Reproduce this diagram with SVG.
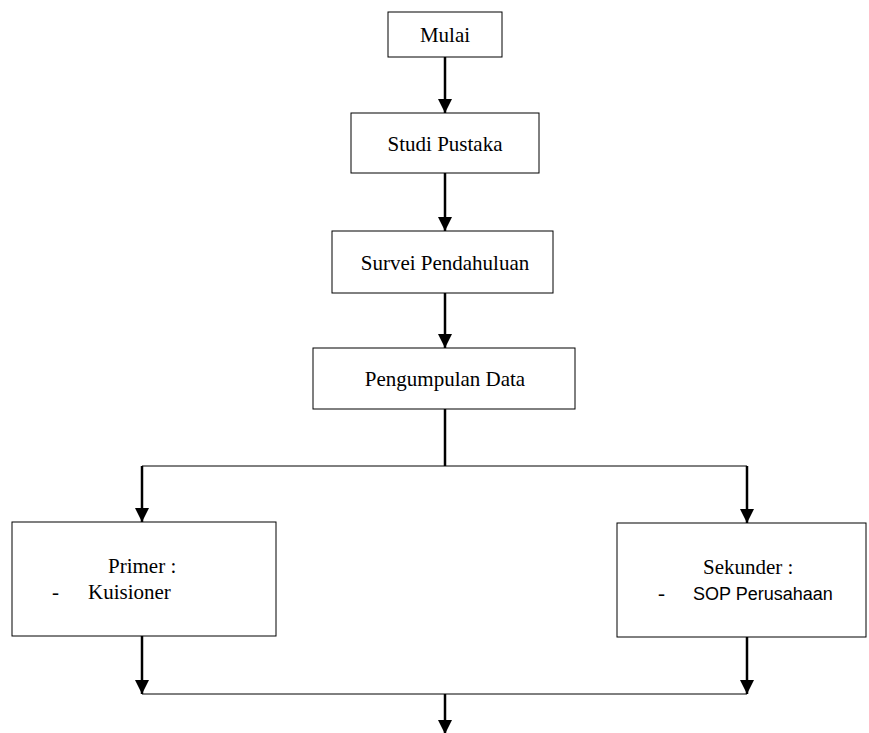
<svg xmlns="http://www.w3.org/2000/svg" width="869" height="733" viewBox="0 0 869 733">
<style>
.box{fill:#fff;stroke:#000;stroke-width:1}
.t{font-family:"Liberation Serif","Times New Roman",serif;font-size:21px;fill:#000}
.s{font-family:"Liberation Sans",Arial,sans-serif;font-size:18px;fill:#000}
.c{text-anchor:middle}
.arr{stroke:#000;stroke-width:2.5;fill:none}
.ln{stroke:#000;stroke-width:1;fill:none}
</style>
<defs>
<marker id="ah" viewBox="0 0 14 14" refX="14" refY="7" markerWidth="14" markerHeight="14" markerUnits="userSpaceOnUse" orient="auto">
<path d="M0,0 L14,7 L0,14 Z" fill="#000"/>
</marker>
</defs>
<rect width="869" height="733" fill="#fff"/>
<g id="connectors">
<line class="arr" x1="445" y1="57" x2="445" y2="113" marker-end="url(#ah)"/>
<line class="arr" x1="445" y1="173" x2="445" y2="231" marker-end="url(#ah)"/>
<line class="arr" x1="445" y1="293" x2="445" y2="348" marker-end="url(#ah)"/>
<line class="arr" x1="445" y1="409" x2="445" y2="466"/>
<line class="ln" x1="142" y1="466" x2="747" y2="466"/>
<line class="arr" x1="142" y1="466" x2="142" y2="522" marker-end="url(#ah)"/>
<line class="arr" x1="747" y1="466" x2="747" y2="523" marker-end="url(#ah)"/>
<line class="arr" x1="142" y1="636" x2="142" y2="694" marker-end="url(#ah)"/>
<line class="arr" x1="747" y1="637" x2="747" y2="694" marker-end="url(#ah)"/>
<line class="ln" x1="142" y1="694" x2="747" y2="694"/>
<line class="arr" x1="445" y1="694" x2="445" y2="734" marker-end="url(#ah)"/>
</g>
<g id="mulai">
<rect class="box" x="388" y="12" width="114" height="45"/>
<text class="t c" x="445" y="42">Mulai</text>
</g>
<g id="studi-pustaka">
<rect class="box" x="351" y="113" width="188" height="60"/>
<text class="t c" x="445" y="151">Studi Pustaka</text>
</g>
<g id="survei-pendahuluan">
<rect class="box" x="332" y="231" width="221" height="62"/>
<text class="t c" x="445" y="270">Survei Pendahuluan</text>
</g>
<g id="pengumpulan-data">
<rect class="box" x="313" y="348" width="262" height="61"/>
<text class="t c" x="445" y="386">Pengumpulan Data</text>
</g>
<g id="primer">
<rect class="box" x="12" y="522" width="264" height="114"/>
<text class="t" x="108" y="573">Primer :</text>
<text class="t" x="52" y="599">-</text>
<text class="t" x="88" y="599">Kuisioner</text>
</g>
<g id="sekunder">
<rect class="box" x="617" y="523" width="249" height="114"/>
<text class="t" x="703" y="574">Sekunder :</text>
<text class="t" x="658" y="600">-</text>
<text class="s" x="693" y="600">SOP Perusahaan</text>
</g>
</svg>
